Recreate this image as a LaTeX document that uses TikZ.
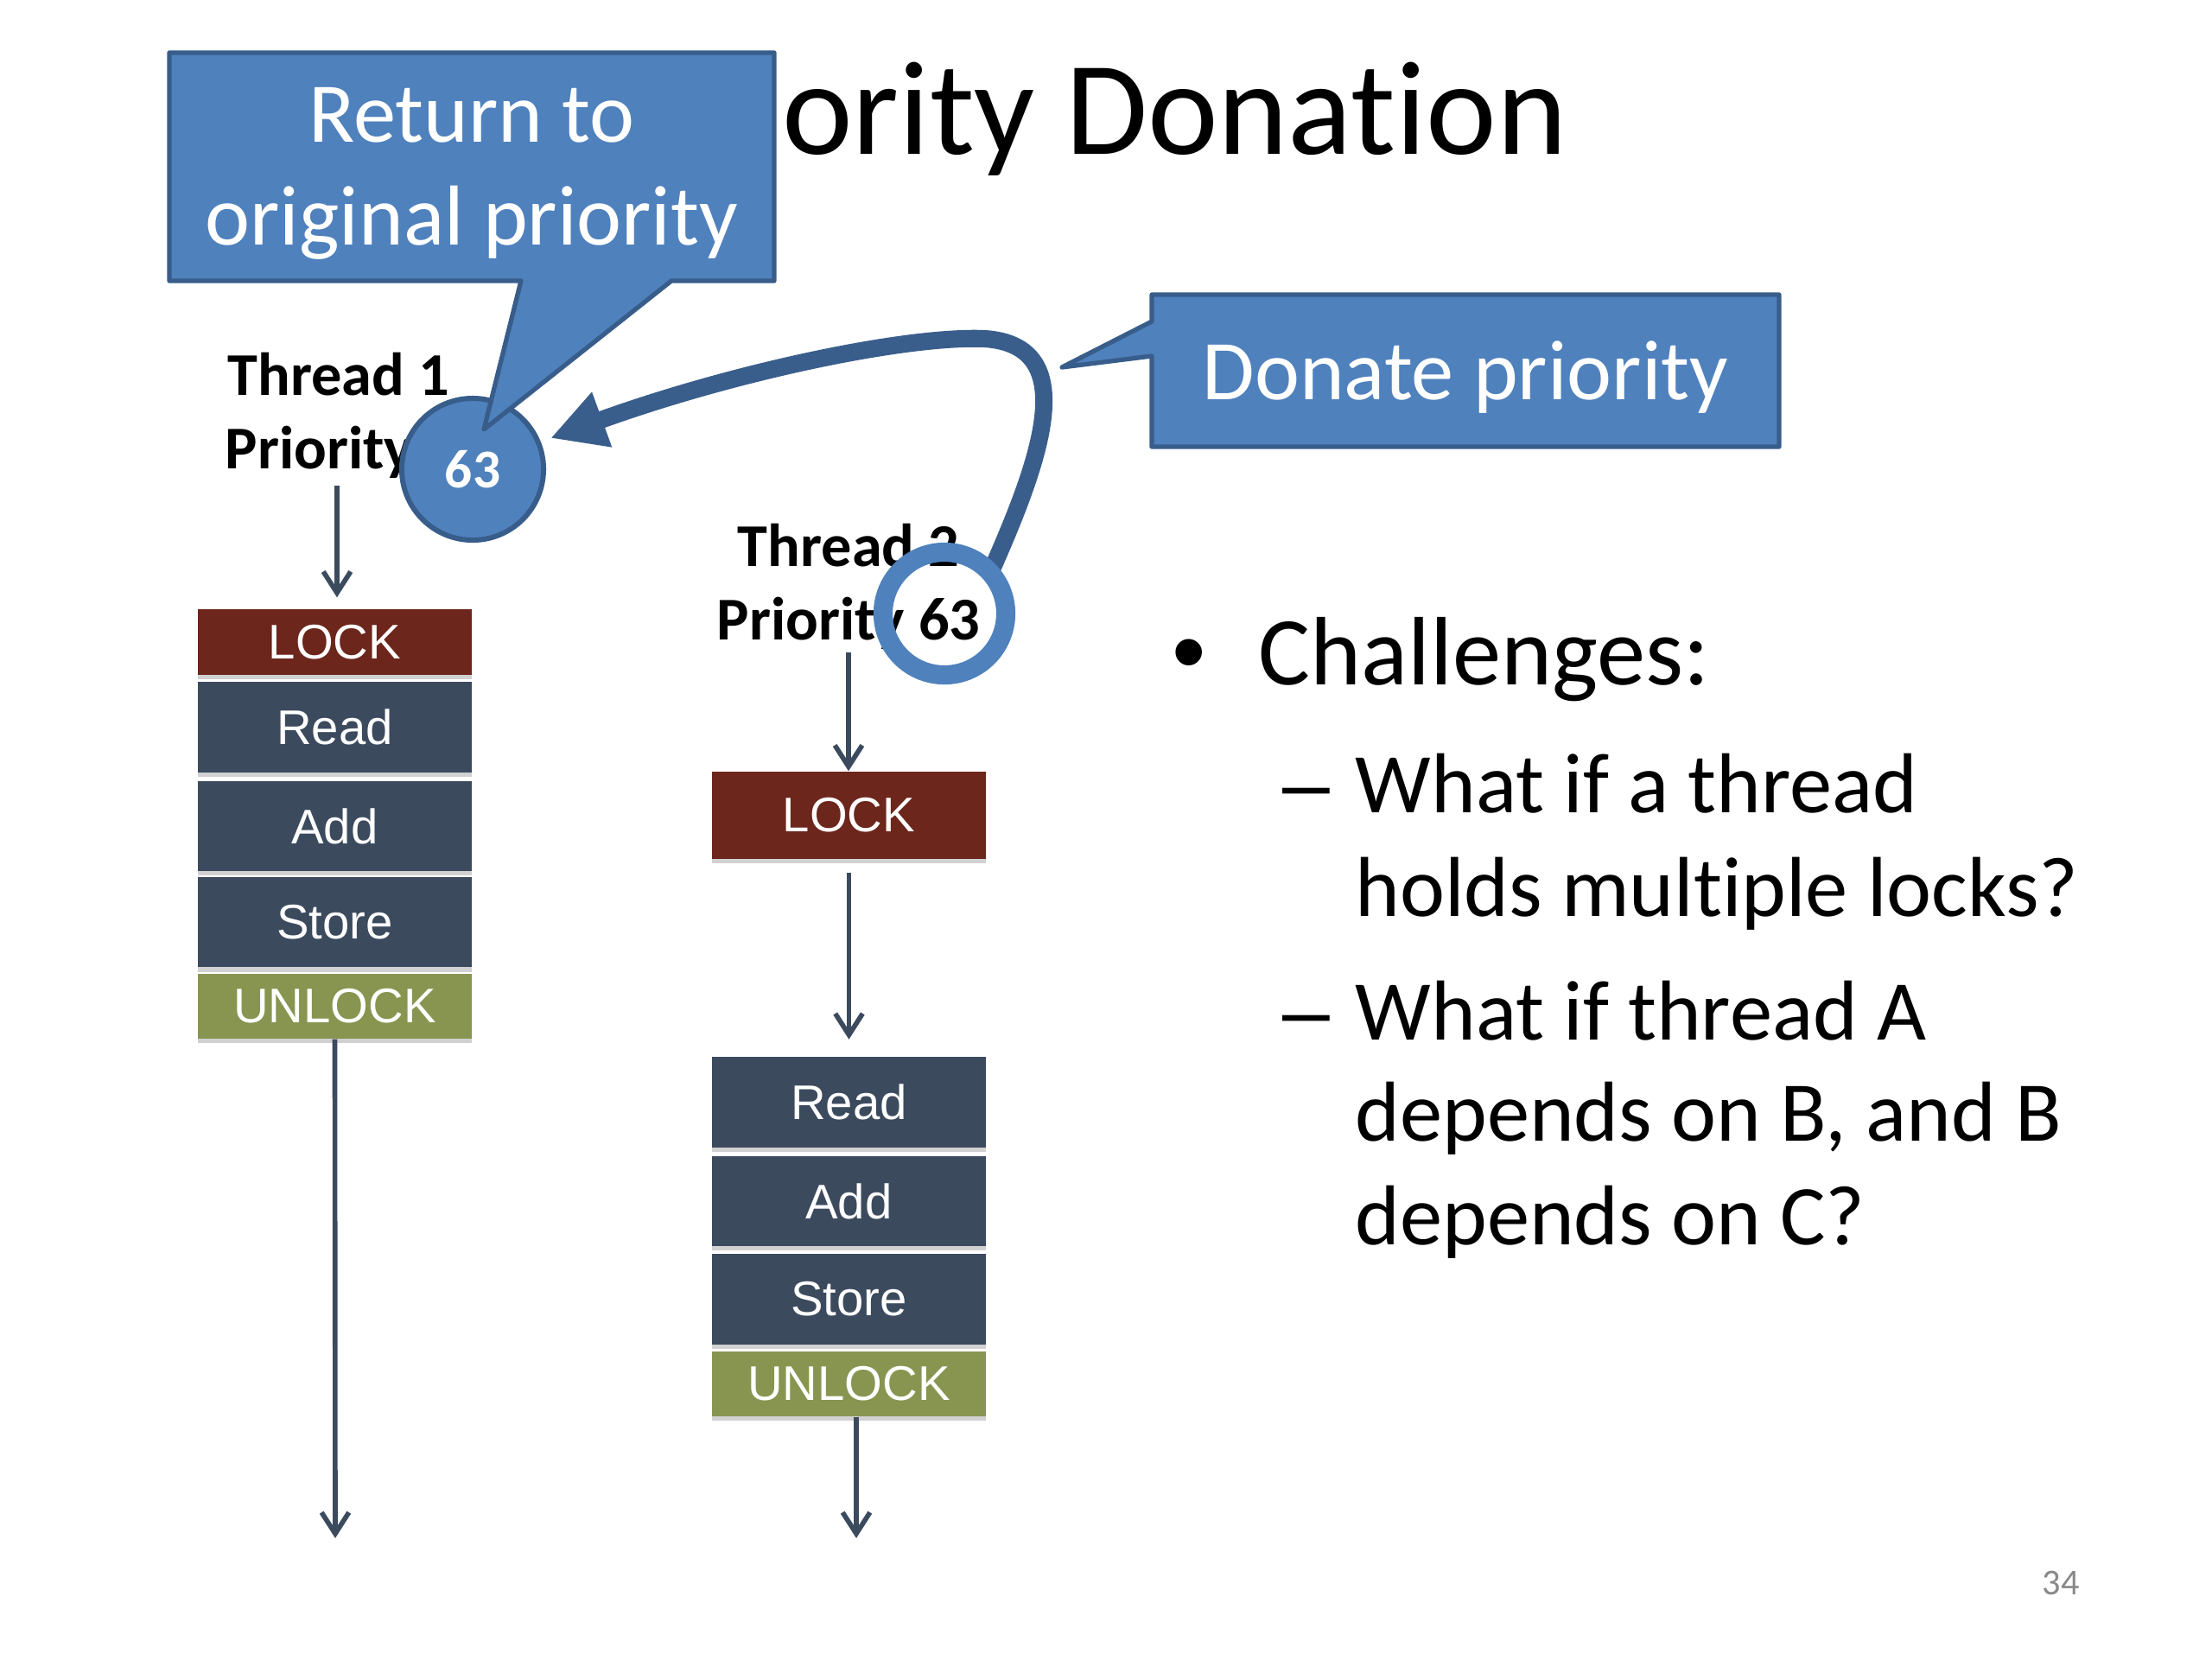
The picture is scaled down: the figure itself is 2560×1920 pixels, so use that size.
\documentclass[tikz,border=0pt]{standalone}
\usepackage{fontspec}
\setmainfont{Carlito}[Ligatures=NoCommon]
\newfontfamily\arialfont{Liberation Sans}
\usetikzlibrary{positioning,arrows.meta,shadows,backgrounds}
\definecolor{CallBlue}{RGB}{79,129,189}
\definecolor{CallEdge}{RGB}{56,93,138}
\definecolor{DonateBlue}{RGB}{58,94,140}
\definecolor{LockRed}{RGB}{108,38,28}
\definecolor{OpSlate}{RGB}{60,74,94}
\definecolor{UnlockOlive}{RGB}{135,149,80}
\definecolor{PageGray}{RGB}{137,137,137}
\tikzset{
  op/.style={rectangle,fill=OpSlate,text=white,font=\arialfont\fontsize{16}{19}\selectfont,
    minimum width=3.17cm,minimum height=1.04cm,inner sep=0pt,
    drop shadow={shadow xshift=0pt,shadow yshift=-1.5pt,opacity=0.3,fill=black!60}},
  lockop/.style={op,fill=LockRed,minimum height=0.76cm},
  unlockop/.style={op,fill=UnlockOlive,minimum height=0.75cm},
  flow/.style={draw=OpSlate,line width=1.6pt,-{Straight Barb[length=7pt,width=9pt]}},
  tlab/.style={font=\bfseries\fontsize{20}{24}\selectfont,inner sep=0pt},
  callout/.style={fill=CallBlue,draw=CallEdge,line width=1.5pt,line join=round},
  calltext/.style={text=white,font=\fontsize{28}{34}\selectfont,align=center,inner sep=0pt},
  bigtext/.style={font=\fontsize{32}{38}\selectfont,inner sep=0pt,anchor=base west},
  subtext/.style={font=\fontsize{28}{34}\selectfont,inner sep=0pt,anchor=base west},
}

\begin{document}
\begin{tikzpicture}[x=0.01cm,y=-0.01cm]
\useasboundingbox (0,0) rectangle (2560,1920);
% title (partly under the callout)
\node[font=\fontsize{44}{53}\selectfont,inner sep=0pt,anchor=base west] (title) at (735,178) {Priority Donation};

% thread 1
\node[tlab,anchor=base west] (t1a) at (263,457) {Thread 1};
\node[tlab,anchor=base west] (t1b) at (260,542) {Priority};
\node[lockop] (lock1) at (387.5,743) {LOCK};
\node[op,below=0.07cm of lock1] (read1) {Read};
\node[op,below=0.09cm of read1] (add1) {Add};
\node[op,below=0.06cm of add1] (store1) {Store};
\node[unlockop,below=0.06cm of store1] (unlock1) {UNLOCK};
\coordinate (s1) at (390,562);
\coordinate (e1) at (388,1780);
\draw[flow,shorten >=0.13cm] (s1) -- (s1 |- lock1.north);
\draw[flow] (unlock1.south) -- (e1);

% thread 2
\node[tlab,anchor=base] (t2a) at (982,655) {Thread 2};
\node[tlab,anchor=base] (t2b) at (982,740) {Priority 63};
\node[lockop,minimum height=1.01cm] (lock2) at (982.5,943.5) {LOCK};
\node[op] (read2) at (982.5,1275.5) {Read};
\node[op,below=0.09cm of read2] (add2) {Add};
\node[op,below=0.08cm of add2] (store2) {Store};
\node[unlockop,below=0.07cm of store2] (unlock2) {UNLOCK};
\coordinate (s2) at (982,755);
\coordinate (e2) at (991,1780);
\draw[flow] (s2) -- (s2 |- lock2.north);
\draw[flow,shorten <=0.15cm,shorten >=0.2cm] (lock2.south) -- (read2.north);
\draw[flow] (e2 |- unlock2.south) -- (e2);

% priorities
\node[circle,fill=CallBlue,draw=CallEdge,line width=1.7pt,minimum size=1.64cm,inner sep=0pt,
  text=white,font=\bfseries\fontsize{18}{22}\selectfont] (p1) at (547,543) {63};
\node[circle,draw=CallBlue,line width=6.3pt,minimum size=1.42cm,inner sep=0pt] (p2) at (1093,710) {};

% donation arrow
\begin{scope}[on background layer]
\draw[DonateBlue,line width=5.7pt,-{Triangle[length=18pt,width=18pt]},shorten <=-0.1cm,shorten >=0.12cm]
  (p2.45) .. controls (1205,530) and (1252,400) .. (1140,392)
  .. controls (1050,388) and (850,430) .. (p1.22);
\end{scope}

% callouts
\draw[callout] (196,61) -- (896,61) -- (896,325) -- (777,325) -- (560,497) -- (603,325) -- (196,325) -- cycle;
\node[calltext] (ret) at (546,201) {Return to\\original priority};
\draw[callout] (1333,341) -- (2059,341) -- (2059,517) -- (1333,517) -- (1333,412) -- (1229,425) -- (1333,372) -- cycle;
\node[calltext,anchor=base] (don) at (1696,462) {Donate priority};

% bullets
\node[bigtext,font=\arialfont\fontsize{32}{38}\selectfont] (dot) at (1356,792) {•};
\node[bigtext] (chal) at (1456,792) {Challenges:};
\node[subtext,font=\arialfont\fontsize{28}{34}\selectfont] (d1) at (1484,940) {–};
\node[subtext] (q1a) at (1568,940) {What if a thread};
\node[subtext] (q1b) at (1568,1060) {holds multiple locks?};
\node[subtext,font=\arialfont\fontsize{28}{34}\selectfont] (d2) at (1484,1203) {–};
\node[subtext] (q2a) at (1568,1203) {What if thread A};
\node[subtext] (q2b) at (1568,1320) {depends on B, and B};
\node[subtext] (q2c) at (1568,1440) {depends on C?};

\node[font=\fontsize{12}{14}\selectfont,text=PageGray,inner sep=0pt,anchor=base west] (pg) at (2363,1845) {34};
\end{tikzpicture}
\end{document}
